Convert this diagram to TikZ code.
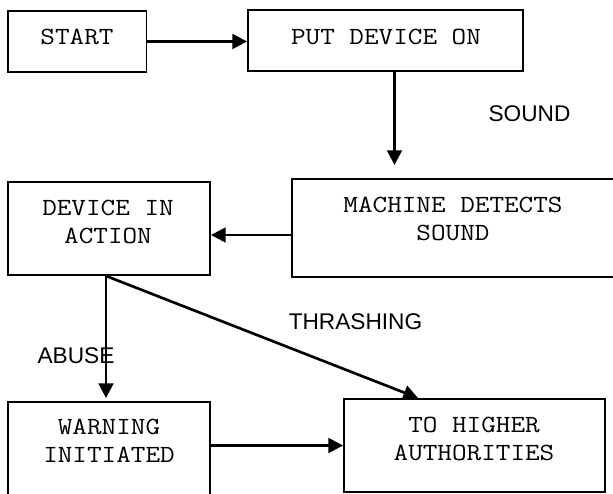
\documentclass[tikz,border=0pt]{standalone}
\usepackage{fontspec}
\setmonofont[FakeStretch=1.15]{Latin Modern Mono}
\newfontfamily\armfnt{Liberation Sans}
\usetikzlibrary{arrows.meta}

\begin{document}
\begin{tikzpicture}[x=0.75pt,y=-0.75pt,
  box/.style={draw,line width=1.4pt,inner sep=0pt},
  txt/.style={inner sep=0pt,align=center,font=\ttfamily\fontsize{18.5}{21}\selectfont},
  lbl/.style={inner sep=0pt,font=\armfnt\fontsize{17}{20}\selectfont},
  arr/.style={line width=2pt,-{Triangle[length=11pt,width=11pt]}}]
\useasboundingbox (0,0) rectangle (613,493);
\clip (0,0) rectangle (613,493);
% boxes
\node[box,minimum width=103.9pt,minimum height=45.75pt] (start) at (77.25,41.5) {};
\node[box,minimum width=206.25pt,minimum height=45.75pt] (puton) at (385.5,40.5) {};
\node[box,minimum width=151.5pt,minimum height=69.75pt] (device) at (109,228.5) {};
\node[box,minimum width=243pt,minimum height=73.5pt] (detect) at (454,228) {};
\node[box,minimum width=151.5pt,minimum height=75pt] (warning) at (109,452) {};
\node[box,minimum width=195.75pt,minimum height=69.75pt] (higher) at (474.5,445.5) {};
% box texts
\node[txt] (starttxt) at (77,37) {START};
\node[txt] (ontxt) at (386,37) {PUT DEVICE ON};
\node[txt] (devicetxt) at (108,221.5) {DEVICE IN\\ACTION};
\node[txt] (detecttxt) at (453,219) {MACHINE DETECTS\\SOUND};
\node[txt] (warningtxt) at (109,441) {WARNING\\INITIATED};
\node[txt] (highertxt) at (474,438.5) {TO HIGHER\\AUTHORITIES};
% labels
\node[lbl] (soundlbl) at (529.5,113.5) {SOUND};
\node[lbl] (thrashlbl) at (355.5,322) {THRASHING};
\node[lbl] (abuselbl) at (76,356) {ABUSE};
% arrows
\coordinate (soundtip) at (394.5,165);
\coordinate (detectout) at ([yshift=-5.25pt]detect.west);
\coordinate (fork) at ([xshift=-2.25pt]device.south);
\coordinate (thrashtip) at (418,398);
\draw[arr] (start.east) -- (start.east -| puton.west);
\draw[arr] (soundtip |- puton.south) -- (soundtip);
\draw[arr] (detectout) -- (detectout -| device.east);
\draw[arr,shorten >=2.25pt] (fork) -- (fork |- warning.north);
\draw[arr] (fork) -- (thrashtip);
\draw[arr] (warning.east |- higher.west) -- (higher.west);
\end{tikzpicture}
\end{document}
